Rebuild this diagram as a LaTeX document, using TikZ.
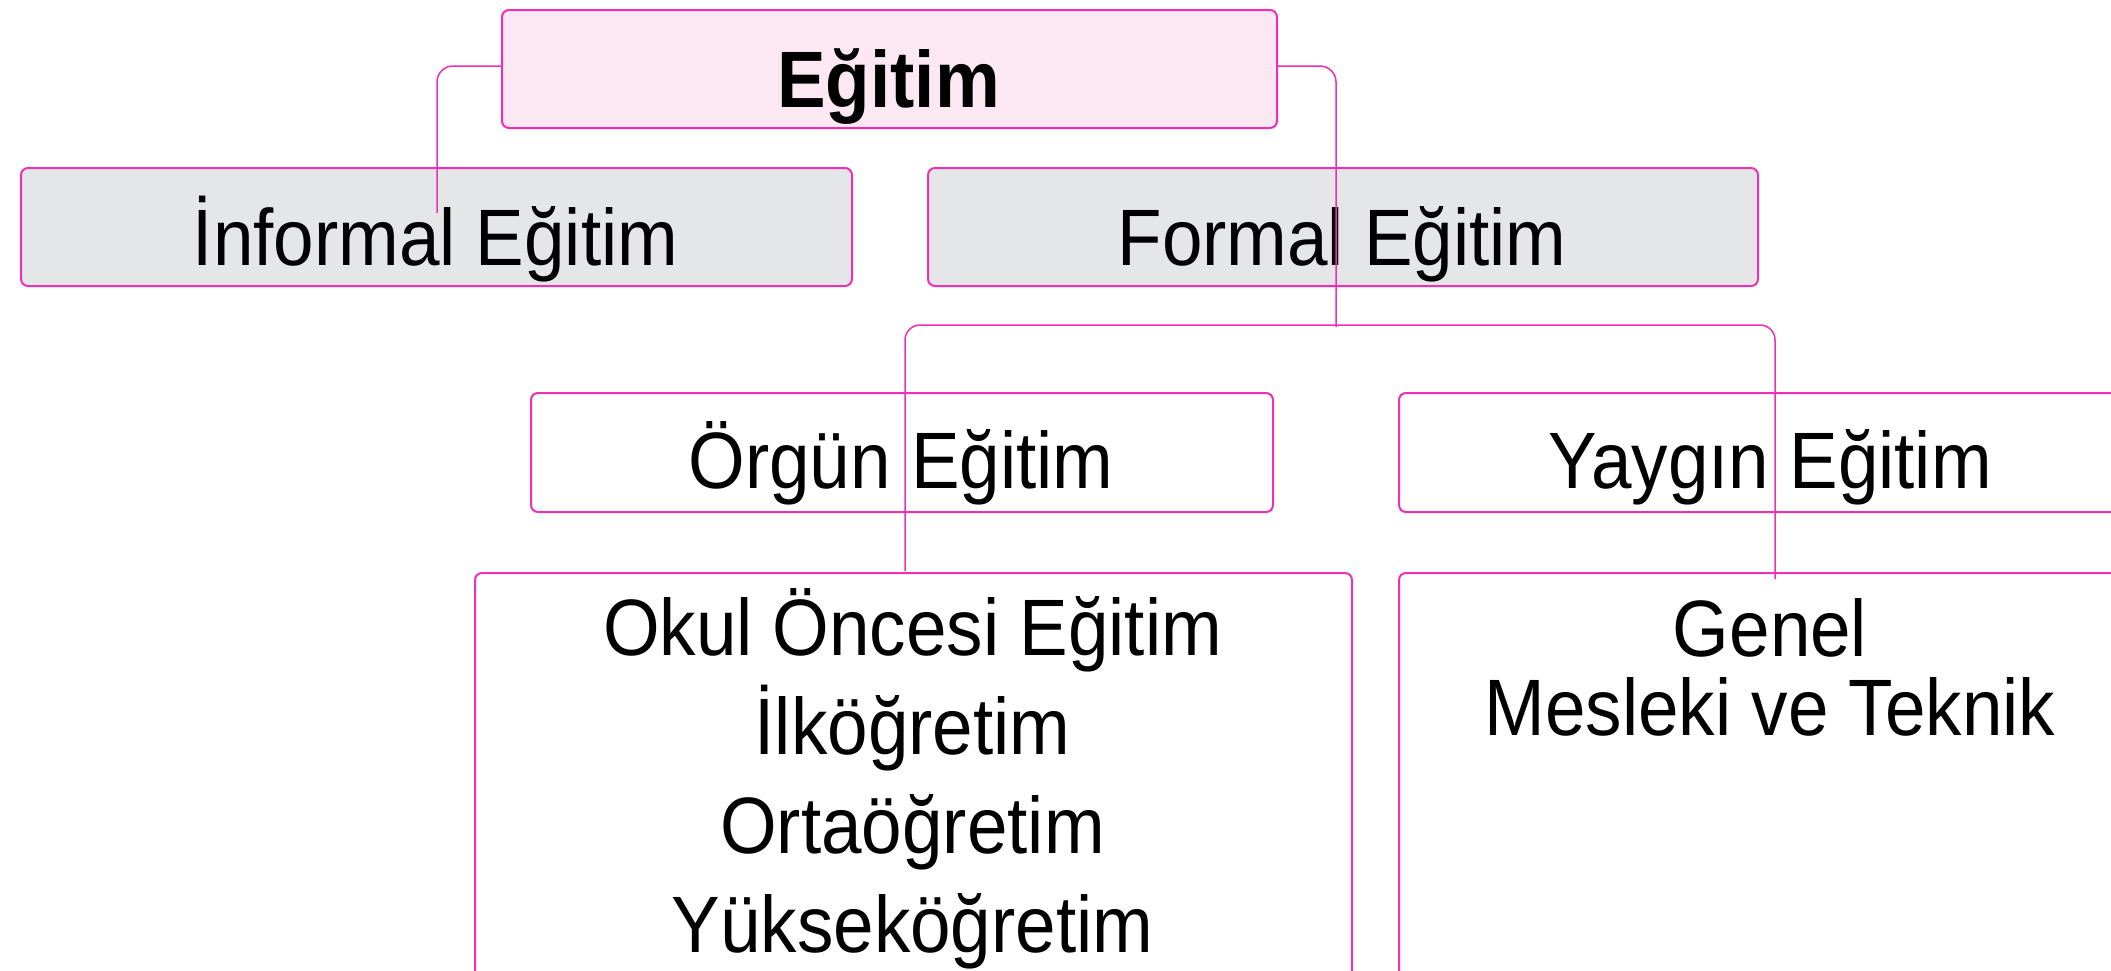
\documentclass[tikz,border=0pt]{standalone}
\usepackage{fontspec}
\setmainfont{Liberation Sans}[FakeStretch=0.91]
\definecolor{edge}{RGB}{238,48,182}
\definecolor{rootfill}{RGB}{252,232,242}
\definecolor{greyfill}{RGB}{229,230,232}
\tikzset{
  boxbase/.style={draw=edge, line width=2pt, rounded corners=7pt, inner sep=0pt,
                  anchor=north west},
  rootbox/.style={boxbase, fill=rootfill},
  greybox/.style={boxbase, fill=greyfill},
  plainbox/.style={boxbase, fill=white},
  label/.style={inner sep=0pt, anchor=base, font=\fontsize{80}{96}\selectfont},
  link/.style={draw=edge, line width=1.5pt, rounded corners=16pt},
}
\begin{document}
\begin{tikzpicture}[x=1pt, y=-1pt]
\clip (0,0) rectangle (2111,970);

% boxes
\node[rootbox,  minimum width=775pt, minimum height=118pt] (root)  at (501,9)   {};
\node[greybox,  minimum width=831pt, minimum height=118pt] (inf)   at (20,167)  {};
\node[greybox,  minimum width=830pt, minimum height=118pt] (form)  at (927,167) {};
\node[plainbox, minimum width=742pt, minimum height=119pt] (orgun) at (530,392) {};
\node[plainbox, minimum width=744pt, minimum height=119pt] (yaygin) at (1398,392) {};
\node[plainbox, minimum width=877pt, minimum height=440pt] (okul)  at (474,572) {};
\node[plainbox, minimum width=744pt, minimum height=440pt] (genel) at (1398,572) {};

% texts (multi-line labels are placed by the baseline of their last line)
\node[label] (roott)   at (888.5,107) {\bfseries Eğitim};
\node[label] (inft)    at (435.5,265) {İnformal Eğitim};
\node[label] (formt)   at (1342,265)  {Formal Eğitim};
\node[label] (orgunt)  at (901,488)   {Örgün Eğitim};
\node[label] (yaygint) at (1770,488)  {Yaygın Eğitim};
\node[label, align=center, font=\fontsize{80}{99}\selectfont]
  (okult) at (912.5,952) {Okul Öncesi Eğitim\\İlköğretim\\Ortaöğretim\\Yükseköğretim};
\node[label, align=center, font=\fontsize{80}{79}\selectfont]
  (genelt) at (1770,735) {Genel\\Mesleki ve Teknik};

% connector ends
\coordinate (infend)  at (437,213);
\coordinate (formend) at (1336,327);
\coordinate (barl)    at (905,571);
\coordinate (barr)    at (1775,579);
\coordinate (bartop)  at (905,325);

% connectors
\draw[link] ([yshift=3pt]root.west) -| (infend);
\draw[link] ([yshift=3pt]root.east) -| (formend);
\draw[link, rounded corners=15pt] (barl) -- (bartop) -- (bartop -| barr) -- (barr);
\end{tikzpicture}
\end{document}
